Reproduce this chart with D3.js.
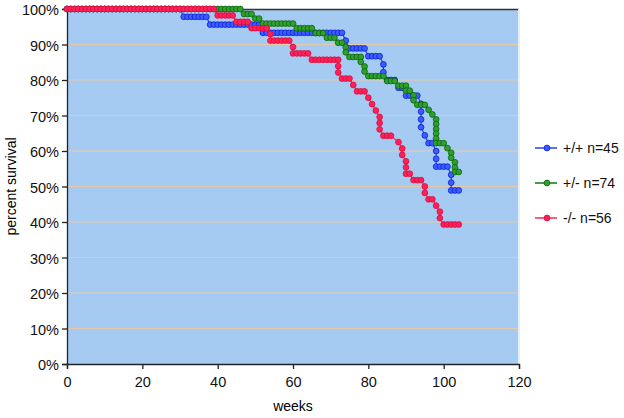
<!DOCTYPE html>
<html>
<head>
  <meta charset="utf-8">
  <script src="https://d3js.org/d3.v7.min.js"></script>
  <style type="text/css">
    body { margin: 0; background: #fff; }
    text { font-family: "Liberation Sans", Arial, sans-serif; }
  </style>
</head>
<body>
  <script type="text/javascript">
    // tick labels
    var weekTicks = [0, 20, 40, 60, 80, 100, 120];
    var pctTicks = [0, 10, 20, 30, 40, 50, 60, 70, 80, 90, 100];

    var seriesNames = ['+/+ n=45', '+/- n=74', '-/- n=56'];

    // survival: [first week, last week, percent]
    var wtRuns = [[0,30,100],[31,37,97.8],[38,51,95.6],[52,73,93.3],[74,74,91.1],
      [75,79,88.9],[80,83,86.7],[84,84,84.4],[84,84,82.2],[85,87,80],[88,89,77.8],
      [90,93,75.6],[94,94,73.3],[94,94,71.1],[94,94,68.9],[94,94,66.7],[95,95,64.4],
      [96,97,62.2],[98,98,60],[98,98,57.8],[98,101,55.6],[102,102,53.3],[102,102,51.1],
      [102,104,48.9]];
    var hetRuns = [[0,46,100],[47,49,98.6],[50,51,97.3],[52,60,95.9],[61,65,94.6],
      [66,68,93.2],[69,71,91.9],[72,73,90.5],[74,74,89.2],[74,74,87.8],[75,78,86.5],
      [78,78,85.1],[79,79,83.8],[79,79,82.4],[80,84,81.1],[85,87,79.7],[88,90,78.4],
      [90,91,77.0],[92,92,75.7],[92,92,74.3],[93,95,73.0],[96,96,71.6],[97,97,70.3],
      [98,98,68.9],[98,98,67.6],[98,98,66.2],[98,98,64.9],[98,98,63.5],[98,100,62.2],
      [101,101,60.8],[102,102,59.5],[102,102,58.1],[103,103,56.8],[103,103,55.4],
      [103,104,54.1]];
    var koRuns = [[0,39,100],[40,44,98.2],[45,48,96.4],[49,53,94.6],[54,54,92.9],
      [54,59,91.1],[60,60,89.3],[60,64,87.5],[65,72,85.7],[72,72,83.9],[72,72,82.1],
      [73,75,80.4],[76,76,78.6],[77,79,76.8],[80,80,75.0],[81,81,73.2],[82,82,71.4],
      [83,83,69.6],[83,83,67.9],[83,83,66.1],[84,86,64.3],[88,88,62.5],[89,89,60.7],
      [89,89,58.9],[90,90,57.1],[90,90,55.4],[90,91,53.6],[92,94,51.8],[95,95,50.0],
      [95,95,48.2],[96,97,46.4],[98,98,44.6],[99,99,42.9],[99,99,41.1],[100,104,39.3]];

    var styles = [
      { fill: '#3b5cff', stroke: '#0a1fd6', line: '#2a3ff0' },
      { fill: '#2fa02f', stroke: '#0b640b', line: '#0b7a0b' },
      { fill: '#ff1f5a', stroke: '#d40f3c', line: '#e8304f' }
    ];

    // one marker per week of each run
    function expand(runs) {
      var pts = [];
      runs.forEach(function (r) {
        for (var w = r[0]; w <= r[1]; w++) pts.push({ w: w, p: r[2] });
      });
      return pts;
    }
    var series = [wtRuns, hetRuns, koRuns].map(expand);

    var width = 624, height = 418;
    var margin = { top: 9, right: 105, bottom: 54, left: 67 };
    var w = width - margin.left - margin.right,
        h = height - margin.top - margin.bottom;

    var svg = d3.select('body').append('svg')
      .attr('width', width).attr('height', height);
    var g = svg.append('g')
      .attr('transform', 'translate(' + margin.left + ',' + margin.top + ')');

    var x = d3.scaleLinear().domain([0, 120]).range([0, w]);
    var y = d3.scaleLinear().domain([0, 100]).range([h, 0]);

    // plot background
    g.append('rect').attr('width', w).attr('height', h).attr('fill', '#a6cbf3');

    // gridlines
    g.selectAll('.grid').data(pctTicks.slice(1, -1)).enter()
      .append('line')
      .attr('x1', 0).attr('x2', w)
      .attr('y1', function (d) { return y(d); })
      .attr('y2', function (d) { return y(d); })
      .attr('stroke', '#e6c9a8').attr('stroke-width', 1);

    // plot border top / right
    g.append('line').attr('x1', 0).attr('x2', w).attr('y1', 0.5).attr('y2', 0.5)
      .attr('stroke', '#333').attr('stroke-width', 1.5);
    g.append('line').attr('x1', w).attr('x2', w).attr('y1', 0).attr('y2', h)
      .attr('stroke', '#e8eef5').attr('stroke-width', 2);

    // axes
    var yAxis = d3.axisLeft(y).tickValues(pctTicks)
      .tickFormat(function (d) { return d + '%'; }).tickSize(5).tickPadding(3);
    var xAxis = d3.axisBottom(x).tickValues(weekTicks).tickSize(5).tickPadding(8);

    var ya = g.append('g').call(yAxis);
    var xa = g.append('g').attr('transform', 'translate(0,' + h + ')').call(xAxis);
    [ya, xa].forEach(function (a) {
      a.selectAll('path, line').attr('stroke', '#222').attr('stroke-width', 1.3);
      a.selectAll('text').style('font-size', '14.5px').attr('fill', '#111');
    });
    ya.selectAll('text').attr('dy', '0.4em');

    // axis titles
    svg.append('text')
      .attr('transform', 'translate(16,' + (margin.top + h / 2) + ') rotate(-90)')
      .attr('text-anchor', 'middle').style('font-size', '14px')
      .text('percent survival');
    svg.append('text')
      .attr('x', margin.left + w / 2).attr('y', 411)
      .attr('text-anchor', 'middle').style('font-size', '14px')
      .text('weeks');

    // lines + markers
    var line = d3.line()
      .x(function (d) { return x(d.w); })
      .y(function (d) { return y(d.p); });

    series.forEach(function (pts, i) {
      var s = styles[i];
      g.append('path').datum(pts)
        .attr('d', line).attr('fill', 'none')
        .attr('stroke', s.line).attr('stroke-width', 1.2);
      g.selectAll('.m' + i).data(pts).enter()
        .append('circle')
        .attr('cx', function (d) { return x(d.w); })
        .attr('cy', function (d) { return y(d.p); })
        .attr('r', 2.9)
        .attr('fill', s.fill).attr('stroke', s.stroke).attr('stroke-width', 0.8);
    });

    // legend
    var leg = svg.append('g').attr('transform', 'translate(535,148)');
    seriesNames.forEach(function (name, i) {
      var s = styles[i];
      var row = leg.append('g').attr('transform', 'translate(0,' + (i * 35) + ')');
      row.append('line').attr('x1', 0).attr('x2', 22).attr('y1', 0).attr('y2', 0)
        .attr('stroke', s.line).attr('stroke-width', 1.5);
      row.append('circle').attr('cx', 12).attr('cy', 0).attr('r', 2.9)
        .attr('fill', s.fill).attr('stroke', s.stroke).attr('stroke-width', 0.8);
      row.append('text').attr('x', 28).attr('y', 0).attr('dy', '0.35em')
        .style('font-size', '14px').attr('fill', '#111').text(name);
    });
  </script>
</body>
</html>
